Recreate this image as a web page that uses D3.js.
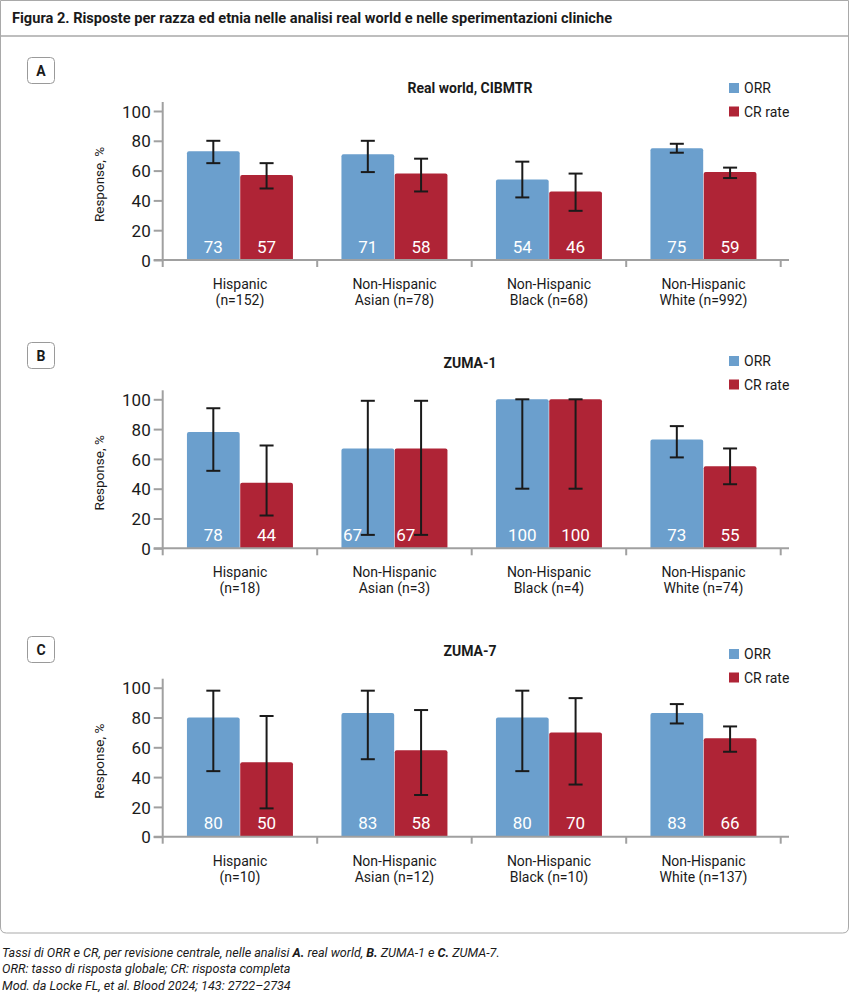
<!DOCTYPE html>
<html><head><meta charset="utf-8">
<script src="https://cdn.jsdelivr.net/npm/d3@7"></script>
<style>
body{margin:0;background:#fff;}
svg{display:block;font-family:"Roboto","Liberation Sans",sans-serif;}
</style></head>
<body><svg id="chart" width="850" height="1007"></svg>
<script>
// ---- data ----
const figureTitle = "Figura 2. Risposte per razza ed etnia nelle analisi real world e nelle sperimentazioni cliniche";
const panelLetters = ["A", "B", "C"];
const panelTitles = ["Real world, CIBMTR", "ZUMA-1", "ZUMA-7"];
const seriesNames = ["ORR", "CR rate"];
const categories = ["Hispanic", "Non-Hispanic Asian", "Non-Hispanic Black", "Non-Hispanic White"];
const catLine1 = ["Hispanic", "Non-Hispanic", "Non-Hispanic", "Non-Hispanic"];
const catLine2A = ["(n=152)", "Asian (n=78)", "Black (n=68)", "White (n=992)"];
const catLine2B = ["(n=18)", "Asian (n=3)", "Black (n=4)", "White (n=74)"];
const catLine2C = ["(n=10)", "Asian (n=12)", "Black (n=10)", "White (n=137)"];
const orrA = [73, 71, 54, 75];
const crA = [57, 58, 46, 59];
const orrCiA = [[65, 80], [59, 80], [42, 66], [72, 78]];
const crCiA = [[48, 65], [46, 68], [33, 58], [55, 62]];
const orrB = [78, 67, 100, 73];
const crB = [44, 67, 100, 55];
const orrCiB = [[52, 94], [9, 99], [40, 100], [61, 82]];
const crCiB = [[22, 69], [9, 99], [40, 100], [43, 67]];
const orrC = [80, 83, 80, 83];
const crC = [50, 58, 70, 66];
const orrCiC = [[44, 98], [52, 98], [44, 98], [76, 89]];
const crCiC = [[19, 81], [28, 85], [35, 93], [57, 74]];
const yTicks = [0, 20, 40, 60, 80, 100];
const yLabel = "Response, %";
const footnotes = [
  [["Tassi di ORR e CR, per revisione centrale, nelle analisi ", false], ["A.", true], [" real world, ", false], ["B.", true], [" ZUMA-1 e ", false], ["C.", true], [" ZUMA-7.", false]],
  [["ORR: tasso di risposta globale; CR: risposta completa", false]],
  [["Mod. da Locke FL, et al. Blood 2024; 143: 2722–2734", false]]
];

// ---- styling / layout ----
const COLORS = ["#6b9fcd", "#af2436"];
const svg = d3.select("#chart");

// outer frame
svg.append("path")
  .attr("d", "M0.5,0.5 H848.5 V927 Q848.5,933 842.5,933 H6.5 Q0.5,933 0.5,927 Z")
  .attr("fill", "none").attr("stroke", "#a9a9a9").attr("stroke-width", 1);
svg.append("line").attr("x1", 0.5).attr("x2", 848.5).attr("y1", 36).attr("y2", 36)
  .attr("stroke", "#a9a9a9").attr("stroke-width", 1.5);
svg.append("text").attr("x", 12).attr("y", 22.5)
  .attr("font-size", 14.6).attr("font-weight", "bold").attr("fill", "#1a1a1a")
  .text(figureTitle);

const panels = [
  {zero: 260, box: 57, title: 88, legend: 88, line2: catLine2A, orr: orrA, cr: crA, orrCi: orrCiA, crCi: crCiA},
  {zero: 548.3, box: 342, title: 363, legend: 361, line2: catLine2B, orr: orrB, cr: crB, orrCi: orrCiB, crCi: crCiB},
  {zero: 836.7, box: 636, title: 651, legend: 654, line2: catLine2C, orr: orrC, cr: crC, orrCi: orrCiC, crCi: crCiC}
];

const x0 = d3.scaleBand().domain(categories).range([162.7, 780.7]).padding(0);
const x1 = d3.scaleBand().domain(seriesNames).range([-53, 53]).paddingInner(0.01);

panels.forEach((p, pi) => {
  const g = svg.append("g");
  const y = d3.scaleLinear().domain([0, 100]).range([p.zero, p.zero - 149]);

  // letter box
  g.append("rect").attr("x", 27.5).attr("y", p.box + 0.5).attr("width", 27).attr("height", 26)
    .attr("rx", 4).attr("fill", "#fff").attr("stroke", "#9a9a9a").attr("stroke-width", 1);
  g.append("text").attr("x", 41).attr("y", p.box + 18.5).attr("text-anchor", "middle")
    .attr("font-size", 14).attr("font-weight", "bold").attr("fill", "#1a1a1a").text(panelLetters[pi]);

  // panel title
  g.append("text").attr("x", 470).attr("y", p.title + 5).attr("text-anchor", "middle")
    .attr("font-size", 14).attr("font-weight", "bold").attr("fill", "#1a1a1a").text(panelTitles[pi]);

  // legend
  seriesNames.forEach((s, si) => {
    const ly = p.legend + si * 23.5;
    g.append("rect").attr("x", 729).attr("y", ly - 5).attr("width", 10).attr("height", 10).attr("fill", COLORS[si]);
    g.append("text").attr("x", 744).attr("y", ly + 5).attr("font-size", 14).attr("fill", "#1a1a1a").text(s);
  });

  // bars
  const series = [p.orr, p.cr];
  const cis = [p.orrCi, p.crCi];
  const r = 2;
  categories.forEach((c, ci) => {
    const cx = x0(c) + x0.bandwidth() / 2;
    seriesNames.forEach((s, si) => {
      const v = series[si][ci];
      const bx = cx + x1(s), bw = x1.bandwidth();
      const top = y(v), bot = y(0);
      g.append("path")
        .attr("d", `M${bx},${bot} V${top + r} Q${bx},${top} ${bx + r},${top} H${bx + bw - r} Q${bx + bw},${top} ${bx + bw},${top + r} V${bot} Z`)
        .attr("fill", COLORS[si]);
      // error bar
      const [lo, hi] = cis[si][ci];
      const ex = bx + bw / 2;
      const eg = g.append("g").attr("stroke", "#1a1a1a").attr("stroke-width", 2);
      eg.append("line").attr("x1", ex).attr("x2", ex).attr("y1", y(lo)).attr("y2", y(hi));
      eg.append("line").attr("x1", ex - 7).attr("x2", ex + 7).attr("y1", y(lo)).attr("y2", y(lo));
      eg.append("line").attr("x1", ex - 7).attr("x2", ex + 7).attr("y1", y(hi)).attr("y2", y(hi));
      // value label (shifted left when the error bar reaches the label)
      const overlap = lo < 18;
      g.append("text")
        .attr("x", overlap ? bx + 1.5 : ex)
        .attr("y", p.zero - 7.5)
        .attr("text-anchor", overlap ? "start" : "middle")
        .attr("font-size", 17).attr("fill", "#fff").text(v);
    });
    // category labels
    const lt = g.append("text").attr("text-anchor", "middle").attr("font-size", 14).attr("fill", "#1a1a1a");
    lt.append("tspan").attr("x", cx).attr("y", p.zero + 29).text(catLine1[ci]);
    lt.append("tspan").attr("x", cx).attr("y", p.zero + 45).text(p.line2[ci]);
  });

  // axes
  const axisColor = "#a0a0a0";
  const yAxis = g.append("g").attr("transform", "translate(162.7,0)")
    .call(d3.axisLeft(y).tickValues(yTicks).tickSize(9).tickPadding(3));
  yAxis.select(".domain").remove();
  yAxis.selectAll(".tick line").attr("stroke", axisColor).attr("stroke-width", 2);
  yAxis.selectAll(".tick text").attr("font-size", 17).attr("fill", "#1a1a1a")
    .attr("font-family", "Roboto,sans-serif").attr("dy", "0.36em");
  g.append("line").attr("x1", 162.7).attr("x2", 162.7).attr("y1", p.zero - 158).attr("y2", p.zero + 7)
    .attr("stroke", axisColor).attr("stroke-width", 2);
  g.append("line").attr("x1", 153.7).attr("x2", 789).attr("y1", p.zero).attr("y2", p.zero)
    .attr("stroke", axisColor).attr("stroke-width", 2);
  const bounds = categories.map(c => x0(c)).concat([x0.range()[1]]);
  g.selectAll(".xtick").data(bounds.slice(1)).enter().append("line")
    .attr("x1", d => d).attr("x2", d => d).attr("y1", p.zero).attr("y2", p.zero + 7)
    .attr("stroke", axisColor).attr("stroke-width", 2);

  // y label
  g.append("text").attr("transform", `translate(103.5,${p.zero - 75.5}) rotate(-90)`)
    .attr("text-anchor", "middle").attr("font-size", 13.5).attr("fill", "#1a1a1a").text(yLabel);
});

// footnotes
footnotes.forEach((line, li) => {
  const t = svg.append("text").attr("x", 2).attr("y", 956.5 + li * 16.5)
    .attr("font-size", 12.6).attr("font-style", "italic").attr("fill", "#1a1a1a");
  line.forEach(([s, b]) => t.append("tspan").attr("font-weight", b ? "bold" : "normal").text(s));
});
</script></body></html>
